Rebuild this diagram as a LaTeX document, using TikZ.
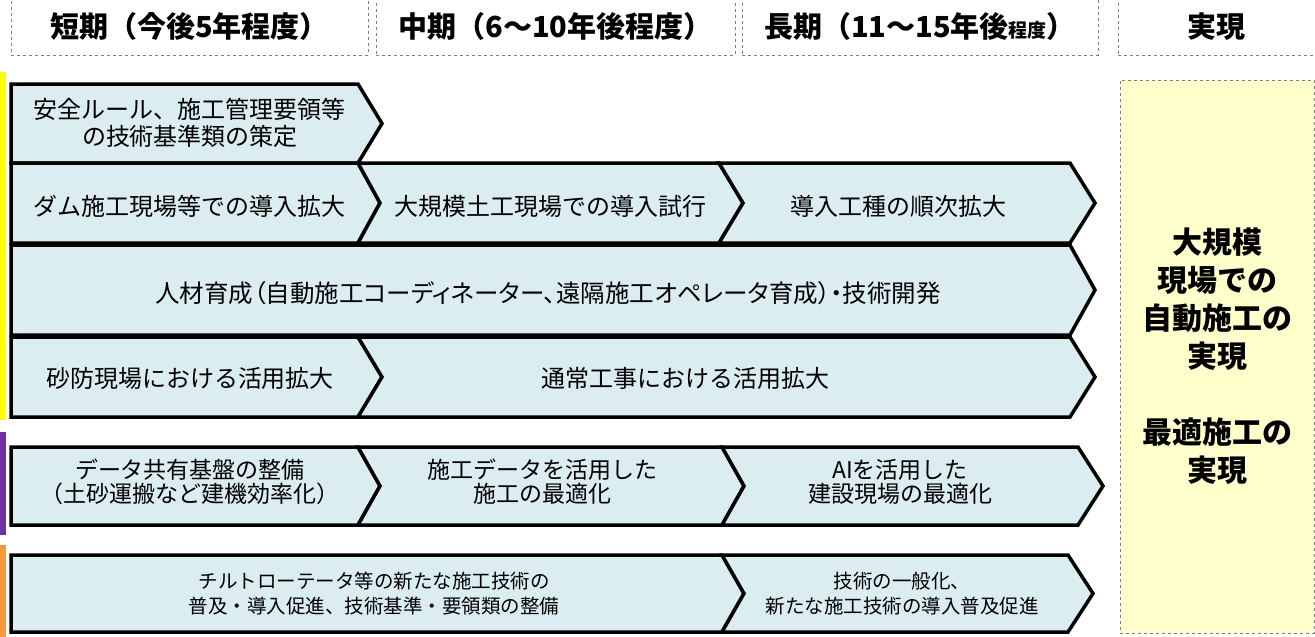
\documentclass[tikz,border=0pt]{standalone}
\usepackage{fontspec}
\setmainfont{Noto Sans CJK JP}
\newfontfamily\jpprop{Noto Sans CJK JP}[RawFeature=+palt]
\definecolor{chevfill}{HTML}{DBEDF1}
\definecolor{goalfill}{HTML}{FFFFCC}
\definecolor{dashgray}{HTML}{7F7F7F}
\definecolor{barpurple}{HTML}{7030A0}
\definecolor{barorange}{HTML}{F79A3C}
\definecolor{baryellow}{HTML}{FFFF00}
% chevron with flat left side: xl, xr, tip, ytop, ybot
\newcommand{\chevflat}[5]{%
  \path[chev] (#1,#4) -- (#2,#4) -- (#3,{(#4+#5)/2}) -- (#2,#5) -- (#1,#5) -- cycle;}
% chevron with notched left side: xl, notch, xr, tip, ytop, ybot
\newcommand{\chevnotch}[6]{%
  \path[chev] (#1,#5) -- (#3,#5) -- (#4,{(#5+#6)/2}) -- (#3,#6) -- (#1,#6) -- (#2,{(#5+#6)/2}) -- cycle;}
\begin{document}
\begin{tikzpicture}[x=1pt,y=-1pt,
  chev/.style={draw=black, line width=3.5pt, fill=chevfill, line join=miter},
  hdr/.style={draw=dashgray, dashed, line width=0.8pt, fill=white, inner sep=0pt,
    minimum height=57pt, font=\bfseries\fontsize{29}{32}\selectfont},
  goal/.style={draw=dashgray, dashed, line width=0.8pt, fill=goalfill, inner sep=0pt,
    align=center, font=\bfseries\fontsize{30}{38}\selectfont},
  txt/.style={inner sep=0pt, align=center, font=\fontsize{24}{27}\selectfont},
  txtp/.style={inner sep=0pt, align=center, font=\jpprop\fontsize{24.5}{27}\selectfont},
  txtb/.style={inner sep=0pt, align=center, font=\fontsize{23}{24}\selectfont},
  txts/.style={inner sep=0pt, align=center, font=\fontsize{19.5}{25}\selectfont},
]
\useasboundingbox[fill=white] (0,0) rectangle (1315,637);

% header boxes
\node[hdr, minimum width=357pt] (h1) at (189.5,26.5) {短期（今後5年程度）};
\node[hdr, minimum width=359pt] (h2) at (555.5,26.5) {中期（6～10年後程度）};
\node[hdr, minimum width=356pt] (h3) at (920,26.5) {長期（11～15年後{\fontsize{19}{20}\selectfont 程度}）};
\node[hdr, minimum width=197pt] (h4) at (1216.5,26.5) {実現};

% colour bars
\fill[baryellow] (0,72) rectangle (6,420);
\fill[barpurple] (0,432) rectangle (6,535);
\fill[barorange] (0,545) rectangle (6,637);

% goal box
\node[goal, minimum width=194pt, minimum height=553pt] (goal) at (1217,356.5)
  {大規模\\現場での\\自動施工の\\実現\\[38pt]最適施工の\\実現};

% row 1
\chevflat{11}{358}{382}{84}{163}
\node[txt] (r1a) at (190,123) {安全ルール、施工管理要領等\\の技術基準類の策定};

% row 2
\chevflat{11}{358}{380}{163}{243}
\chevnotch{358}{380}{719}{743}{163}{243}
\chevnotch{719}{743}{1070}{1095}{163}{243}
\node[txt] (r2a) at (190,206) {ダム施工現場等での導入拡大};
\node[txt] (r2b) at (550,206) {大規模土工現場での導入試行};
\node[txt] (r2c) at (898,206) {導入工種の順次拡大};

% row 3
\chevflat{11}{1070}{1095}{245}{335}
\node[txtp] (r3a) at (548,293) {人材育成（自動施工コーディネーター、遠隔施工オペレータ育成）・技術開発};

% row 4
\chevflat{11}{358}{382}{337}{417}
\chevnotch{358}{382}{1070}{1095}{337}{417}
\node[txt] (r4a) at (190,378) {砂防現場における活用拡大};
\node[txt] (r4b) at (685,378) {通常工事における活用拡大};

% row 5
\chevflat{11}{358}{380}{447}{525}
\chevnotch{358}{380}{722}{744}{447}{525}
\chevnotch{722}{744}{1078}{1103}{447}{525}
\node[txtb] (r5a) at (190,482) {データ共有基盤の整備\\（土砂運搬など建機効率化）};
\node[txtb] (r5b) at (542,482) {施工データを活用した\\施工の最適化};
\node[txtb] (r5c) at (900,482) {AIを活用した\\建設現場の最適化};

% row 6
\chevflat{11}{722}{744}{555}{632}
\chevnotch{722}{744}{1068}{1093}{555}{632}
\node[txts] (r6a) at (374,594) {チルトローテータ等の新たな施工技術の\\普及・導入促進、技術基準・要領類の整備};
\node[txts] (r6b) at (902,594) {技術の一般化、\\新たな施工技術の導入普及促進};
\end{tikzpicture}
\end{document}
